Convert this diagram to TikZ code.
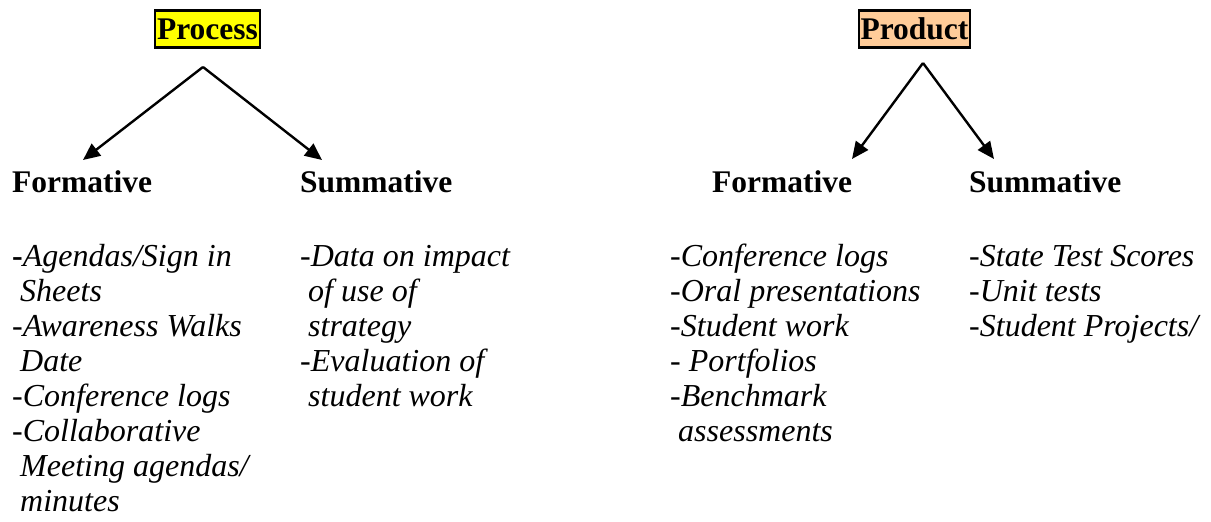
\documentclass[tikz,border=0pt]{standalone}
\usepackage{fontspec}
\setmainfont{Liberation Serif}
\usetikzlibrary{arrows.meta}
\definecolor{procyellow}{HTML}{FFFF00}
\definecolor{prodpeach}{HTML}{FFCC99}
\tikzset{
  titlebox/.style={draw=black, line width=2.2bp, inner sep=0pt, minimum height=37bp,
    font=\fontsize{31.5bp}{34bp}\selectfont\bfseries},
  header/.style={anchor=base west, inner sep=0pt, font=\fontsize{31.5bp}{34bp}\selectfont\bfseries},
  bodytext/.style={anchor=north west, inner sep=0pt, align=left,
    font=\fontsize{32bp}{35bp}\selectfont\itshape},
  arr/.style={line width=2.4bp, -{Triangle[length=17bp,width=15bp]}}
}
\begin{document}
\begin{tikzpicture}[x=1bp,y=-1bp]
\useasboundingbox (0,0) rectangle (1211,522);
% title boxes
\node[titlebox, fill=procyellow, minimum width=105bp] (proc) at (207.5,29) {Process};
\node[titlebox, fill=prodpeach, minimum width=111bp] (prod) at (914.5,29) {Product};
% arrow coordinates
\coordinate (procapex) at (203,67);
\coordinate (proctipL) at (83,160);
\coordinate (proctipR) at (322,160);
\coordinate (prodapex) at (923,63);
\coordinate (prodtipL) at (852,159);
\coordinate (prodtipR) at (994,159);
\draw[arr] (procapex) -- (proctipL);
\draw[arr] (procapex) -- (proctipR);
\draw[arr] (prodapex) -- (prodtipL);
\draw[arr] (prodapex) -- (prodtipR);
% headers
\node[header] (hform1) at (12,193) {Formative};
\node[header] (hsumm1) at (300,193) {Summative};
\node[header] (hform2) at (712,193) {Formative};
\node[header] (hsumm2) at (969,193) {Summative};
% body columns (first baseline at 266)
\node[bodytext] (col1) at (12,241.5) {\strut{\upshape\bfseries -}Agendas/Sign in\\
\ Sheets\\
-Awareness Walks\\
\ Date\\
-Conference logs\\
-Collaborative\\
\ Meeting agendas/\\
\ minutes};
\node[bodytext] (col2) at (300,241.5) {\strut -Data on impact\\
\ of use of\\
\ strategy\\
-Evaluation of\\
\ student work};
\node[bodytext] (col3) at (670,241.5) {\strut -Conference logs\\
-Oral presentations\\
-Student work\\
- Portfolios\\
-Benchmark\\
\ assessments};
\node[bodytext] (col4) at (969,241.5) {\strut -State Test Scores\\
-Unit tests\\
-Student Projects/};
\end{tikzpicture}
\end{document}
